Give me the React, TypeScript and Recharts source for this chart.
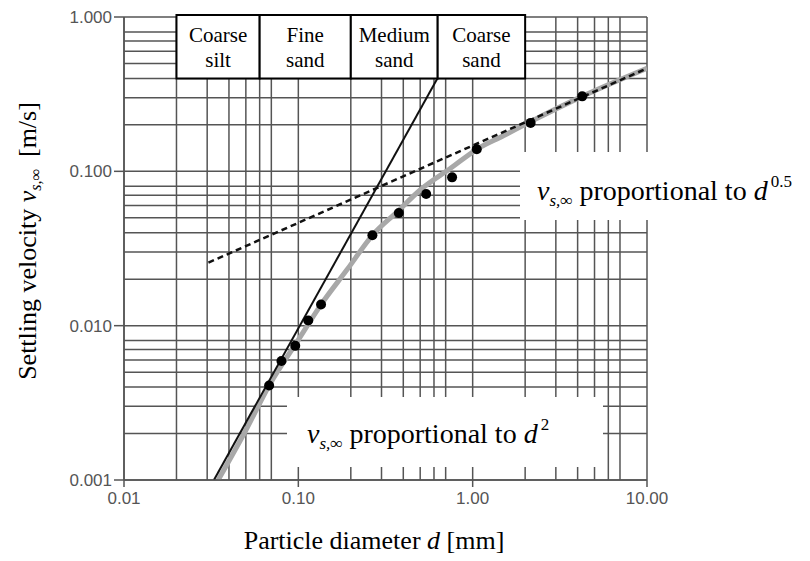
import React from "react";
import {
  ComposedChart,
  Line,
  Scatter,
  XAxis,
  YAxis,
  CartesianGrid,
  ReferenceArea,
} from "recharts";

// axis ticks
const xTicks = [0.01, 0.1, 1, 10];
const xTickLabels = ["0.01", "0.10", "1.00", "10.00"];
const yTicks = [0.001, 0.01, 0.1, 1];
const yTickLabels = ["0.001", "0.010", "0.100", "1.000"];

// log grid: 1..9 in every decade
const gridSteps = [1, 2, 3, 4, 5, 6, 7, 8, 9];
const xDecades = [0.01, 0.1, 1];
const yDecades = [0.001, 0.01, 0.1];
const xGrid = xDecades
  .flatMap((dec) => gridSteps.map((s) => +(dec * s).toPrecision(3)))
  .concat([10]);
const yGrid = yDecades
  .flatMap((dec) => gridSteps.map((s) => +(dec * s).toPrecision(3)))
  .concat([1]);

// measured settling velocities (d in mm, v in m/s)
const measured = [
  { d: 0.068, v: 0.0041 },
  { d: 0.080, v: 0.0059 },
  { d: 0.096, v: 0.0074 },
  { d: 0.114, v: 0.0108 },
  { d: 0.135, v: 0.0137 },
  { d: 0.266, v: 0.0385 },
  { d: 0.377, v: 0.0537 },
  { d: 0.541, v: 0.0713 },
  { d: 0.762, v: 0.0914 },
  { d: 1.056, v: 0.139 },
  { d: 2.15, v: 0.206 },
  { d: 4.25, v: 0.306 },
];

// grey fitted curve
const fitCurve = [
  { d: 0.0347, v: 0.001 },
  { d: 0.05, v: 0.0021 },
  { d: 0.068, v: 0.0041 },
  { d: 0.1, v: 0.0081 },
  { d: 0.135, v: 0.0137 },
  { d: 0.19, v: 0.023 },
  { d: 0.266, v: 0.0385 },
  { d: 0.37, v: 0.0548 },
  { d: 0.5, v: 0.0757 },
  { d: 0.75, v: 0.105 },
  { d: 1.056, v: 0.139 },
  { d: 1.5, v: 0.17 },
  { d: 2.15, v: 0.21 },
  { d: 4.25, v: 0.306 },
  { d: 10, v: 0.465 },
];

// v ~ d^2 (solid) and v ~ d^0.5 (dashed)
const stokesLine = [
  { d: 0.0328, v: 0.001 },
  { d: 0.986, v: 1 },
];
const sqrtLine = [
  { d: 0.0305, v: 0.0256 },
  { d: 10, v: 0.465 },
];

// grain classes at the top
const classNames = [
  ["Coarse", "silt"],
  ["Fine", "sand"],
  ["Medium", "sand"],
  ["Coarse", "sand"],
];
const classBounds = [0.02, 0.06, 0.2, 0.63, 2];
const classBottom = 0.4;
const classTop = 1.03;

const serif = "Liberation Serif";
const sans = "Liberation Sans";

const ClassLabel = (props: any) => {
  const { viewBox, lines } = props;
  const cx = viewBox.x + viewBox.width / 2;
  return (
    <text
      textAnchor="middle"
      style={{ fontFamily: serif, fontSize: 21 }}
      fill="#000"
    >
      <tspan x={cx} y={viewBox.y + 27}>
        {lines[0]}
      </tspan>
      <tspan x={cx} y={viewBox.y + 52}>
        {lines[1]}
      </tspan>
    </text>
  );
};

const Dot = (props: any) => (
  <circle cx={props.cx} cy={props.cy} r={5} fill="#000" />
);

export default function App() {
  return (
    <div
      style={{
        position: "absolute",
        left: 0,
        top: 0,
        width: 810,
        height: 561,
        background: "#fff",
      }}
    >
      <ComposedChart
        width={810}
        height={561}
        margin={{ top: 17, right: 163, bottom: 0, left: 0 }}
      >
        <CartesianGrid
          stroke="#555"
          strokeWidth={1.5}
          verticalValues={xGrid}
          horizontalValues={yGrid}
        />
        <XAxis
          dataKey="d"
          type="number"
          scale="log"
          domain={[0.01, 10]}
          allowDataOverflow
          ticks={xTicks}
          tickFormatter={(v: number) => xTickLabels[xTicks.indexOf(v)] ?? ""}
          height={81}
          tickSize={7}
          tickMargin={5}
          axisLine={{ stroke: "#555", strokeWidth: 1.5 }}
          tickLine={{ stroke: "#555", strokeWidth: 1.5 }}
          tick={{ fill: "#555", fontSize: 17, fontFamily: sans }}
        />
        <YAxis
          dataKey="v"
          type="number"
          scale="log"
          domain={[0.001, 1]}
          allowDataOverflow
          ticks={yTicks}
          tickFormatter={(v: number) => yTickLabels[yTicks.indexOf(v)] ?? ""}
          width={124}
          tickSize={10}
          tickMargin={2}
          axisLine={{ stroke: "#555", strokeWidth: 1.5 }}
          tickLine={{ stroke: "#555", strokeWidth: 1.5 }}
          tick={{ fill: "#555", fontSize: 17, fontFamily: sans }}
        />
        <Line
          data={fitCurve}
          dataKey="v"
          type="monotone"
          stroke="#a8a8a8"
          strokeWidth={5}
          dot={false}
          isAnimationActive={false}
        />
        <Line
          data={sqrtLine}
          dataKey="v"
          type="linear"
          stroke="#111"
          strokeWidth={2.5}
          strokeDasharray="6 4"
          dot={false}
          isAnimationActive={false}
        />
        <Line
          data={stokesLine}
          dataKey="v"
          type="linear"
          stroke="#111"
          strokeWidth={2}
          dot={false}
          isAnimationActive={false}
        />
        <Scatter
          data={measured}
          dataKey="v"
          shape={Dot}
          isAnimationActive={false}
        />
        {classNames.map((lines, i) => (
          <ReferenceArea
            key={i}
            x1={classBounds[i]}
            x2={classBounds[i + 1]}
            y1={classBottom}
            y2={classTop}
            ifOverflow="visible"
            fill="#fff"
            fillOpacity={1}
            stroke="#000"
            strokeWidth={2}
            zIndex={1500}
            label={(p: any) => <ClassLabel {...p} lines={lines} />}
          />
        ))}
      </ComposedChart>
      <svg
        width={810}
        height={561}
        style={{
          position: "absolute",
          left: 0,
          top: 0,
          pointerEvents: "none",
          fontFamily: serif,
        }}
      >
        <rect x={520} y={152} width={290} height={68} fill="#fff" />
        <text x={537} y={200} style={{ fontSize: 28 }} fill="#000">
          <tspan fontStyle="italic">v</tspan>
          <tspan fontStyle="italic" fontSize={17} dy={6}>
            s,∞
          </tspan>
          <tspan dy={-6}> proportional to </tspan>
          <tspan fontStyle="italic">d</tspan>
          <tspan fontSize={17} dx={3} dy={-13}>
            0.5
          </tspan>
        </text>
        <rect x={287} y={397} width={316} height={70} fill="#fff" />
        <text x={307} y={443} style={{ fontSize: 28 }} fill="#000">
          <tspan fontStyle="italic">v</tspan>
          <tspan fontStyle="italic" fontSize={17} dy={6}>
            s,∞
          </tspan>
          <tspan dy={-6}> proportional to </tspan>
          <tspan fontStyle="italic">d</tspan>
          <tspan fontSize={17} dx={3} dy={-13}>
            2
          </tspan>
        </text>
        <text
          x={374}
          y={549}
          textAnchor="middle"
          style={{ fontSize: 26 }}
          fill="#000"
        >
          Particle diameter <tspan fontStyle="italic">d</tspan> [mm]
        </text>
        <text
          transform="translate(36,241) rotate(-90)"
          textAnchor="middle"
          style={{ fontSize: 26 }}
          fill="#000"
        >
          Settling velocity <tspan fontStyle="italic">v</tspan>
          <tspan fontStyle="italic" fontSize={16} dy={5}>
            s,∞
          </tspan>
          <tspan dx={12} dy={-5}>
            [m/s]
          </tspan>
        </text>
      </svg>
    </div>
  );
}
